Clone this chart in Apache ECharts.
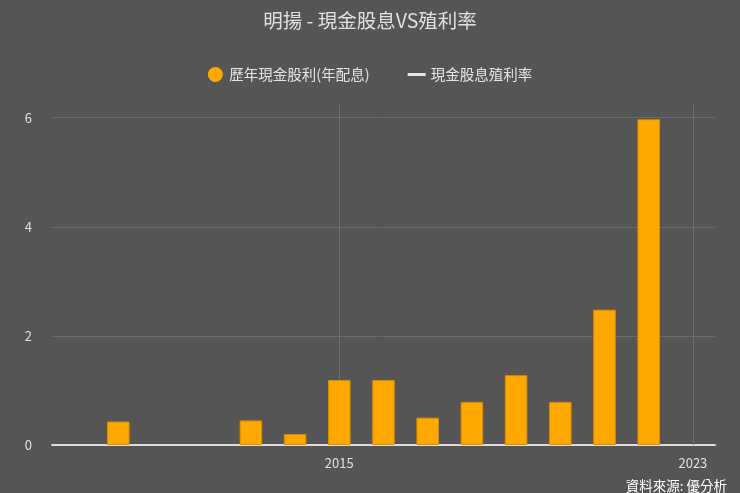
<!DOCTYPE html>
<html>
<head>
    <meta charset="utf-8">
    <title>ECharts</title>
    <script src="https://cdn.jsdelivr.net/npm/echarts@6/dist/echarts.min.js"></script>
    <style>
        html, body { margin: 0; padding: 0; background: #555555; }
    </style>
</head>
<body>
    <div id="main" style="width: 740px;height:493px;"></div>

    <script type="text/javascript">
        // 年度 / 現金股利 / 殖利率
        var years = ['2009', '2010', '2011', '2012', '2013', '2014', '2015', '2016',
                     '2017', '2018', '2019', '2020', '2021', '2022', '2023'];
        var cashDividend = [null, 0.43, null, null, 0.45, 0.2, 1.19, 1.19,
                            0.5, 0.79, 1.28, 0.79, 2.48, 5.97, null];
        var dividendYield = [];
        var shownYears = ['2015', '2023'];

        var font = '"Noto Sans CJK TC", "Noto Sans", sans-serif';
        var myChart = echarts.init(document.getElementById('main'));

        var option = {
            backgroundColor: '#555555',
            textStyle: { fontFamily: font },
            title: {
                text: '明揚 - 現金股息VS殖利率',
                left: 'center',
                top: 6,
                textStyle: {
                    color: '#e0e0e0',
                    fontSize: 19.5,
                    fontWeight: 'normal',
                    fontFamily: font
                }
            },
            legend: {
                top: 62,
                left: 'center',
                itemGap: 38,
                itemWidth: 18,
                itemHeight: 15,
                textStyle: { color: '#e4e4e4', fontSize: 14.5, fontFamily: font },
                data: [
                    { name: '歷年現金股利(年配息)', icon: 'circle', itemStyle: { borderWidth: 0 } },
                    { name: '現金股息殖利率', icon: 'path://M0,0 L18,0 L18,3 L0,3 Z' }
                ]
            },
            grid: { left: 52, right: 25, top: 104, bottom: 48 },
            xAxis: {
                type: 'category',
                data: years,
                axisLine: { lineStyle: { color: '#dddddd', width: 2 } },
                axisTick: { show: false },
                axisLabel: {
                    color: '#e0e0e0',
                    fontSize: 13,
                    margin: 12,
                    interval: function (i, v) { return shownYears.indexOf(v) >= 0; }
                },
                splitLine: { show: false }
            },
            yAxis: {
                type: 'value',
                min: 0,
                max: 6.25,
                interval: 2,
                axisLine: { show: false },
                axisTick: { show: false },
                axisLabel: {
                    color: '#e0e0e0',
                    fontSize: 13,
                    margin: 20,
                    showMaxLabel: false
                },
                splitLine: {
                    lineStyle: {
                        color: ['#6b6b6b', '#6b6b6b', '#6b6b6b', '#6b6b6b', 'rgba(0,0,0,0)'],
                        width: 1
                    }
                }
            },
            graphic: [{
                type: 'text',
                right: 13,
                bottom: 0,
                style: {
                    text: '資料來源: 優分析',
                    fill: '#ffffff',
                    fontSize: 13.5,
                    fontFamily: font
                }
            }],
            series: [{
                name: '歷年現金股利(年配息)',
                type: 'bar',
                z: 3,
                data: cashDividend,
                barWidth: '51%',
                itemStyle: {
                    color: '#ffa800',
                    borderColor: '#d88f00',
                    borderWidth: 1
                },
                markLine: {
                    silent: true,
                    z: 1,
                    symbol: 'none',
                    label: { show: false },
                    lineStyle: { color: '#6f6f6f', type: 'solid', width: 1 },
                    data: shownYears.map(function (y) { return { xAxis: y }; })
                }
            }, {
                name: '現金股息殖利率',
                type: 'line',
                data: dividendYield,
                symbol: 'none',
                showSymbol: false,
                itemStyle: { color: '#e8e8e8' },
                lineStyle: { color: '#e8e8e8', width: 3 }
            }]
        };

        myChart.setOption(option);
    </script>
</body>
</html>
